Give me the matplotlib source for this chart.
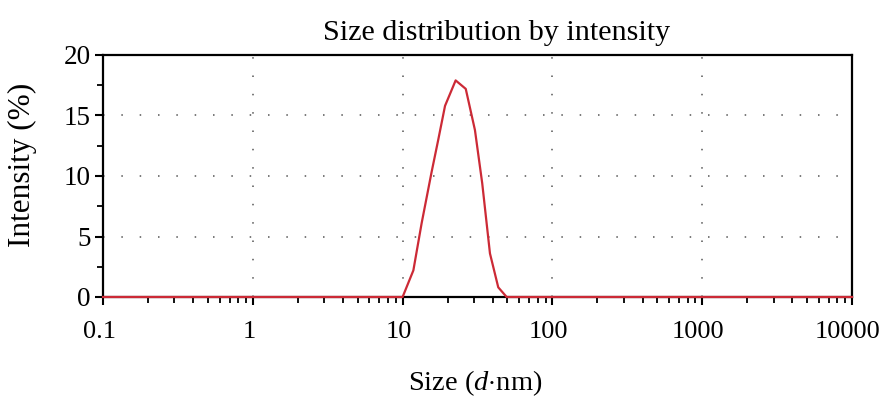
import matplotlib
matplotlib.use("Agg")
import matplotlib.pyplot as plt
import matplotlib.transforms as mtransforms
from matplotlib.ticker import LogLocator, FixedLocator, NullFormatter

plt.rcParams['font.family'] = ['Liberation Serif', 'DejaVu Serif']
plt.rcParams['mathtext.fontset'] = 'custom'
plt.rcParams['mathtext.rm'] = 'Liberation Serif'
plt.rcParams['mathtext.it'] = 'Liberation Serif:italic'

# data (size in nm, intensity in %)
sizes = [0.1, 1.0, 10.0, 11.8, 13.4, 15.6, 17.3, 19.2, 22.6, 26.4, 30.4, 34.0, 38.3, 43.5, 49.5, 100.0, 1000.0, 10000.0]
intensity = [0, 0, 0, 2.2, 6.1, 10.3, 13.0, 15.8, 17.9, 17.2, 13.8, 9.4, 3.6, 0.8, 0, 0, 0, 0]

x_ticks = [0.1, 1, 10, 100, 1000, 10000]
x_ticklabels = ["0.1", "1", "10", "100", "1000", "10000"]
y_ticks = [0, 5, 10, 15, 20]
y_ticklabels = ["0", "5", "10", "15", "20"]
title = "Size distribution by intensity"
xlabel = r"Size ($\mathit{d}$$\cdot$nm)"
ylabel = "Intensity (%)"

W, H = 884, 403
fig = plt.figure(figsize=(W / 100, H / 100), dpi=100)
ax = fig.add_axes([103 / W, 1 - 297 / H, (852 - 103) / W, (297 - 55) / H])

ax.plot(sizes, intensity, color='#cc2a36', lw=1.6, zorder=3, clip_on=False)

ax.set_xscale('log')
ax.set_xlim(0.1, 10000)
ax.set_ylim(0, 20)

ax.xaxis.set_major_locator(FixedLocator(x_ticks))
ax.set_xticklabels(x_ticklabels)
ax.xaxis.set_minor_locator(LogLocator(base=10, subs=range(2, 10)))
ax.xaxis.set_minor_formatter(NullFormatter())
ax.yaxis.set_major_locator(FixedLocator(y_ticks))
ax.set_yticklabels(y_ticklabels)
ax.yaxis.set_minor_locator(FixedLocator([2.5, 7.5, 12.5, 17.5]))

ax.tick_params(axis='both', which='major', direction='out', length=6, width=1.5,
               colors='black')
ax.tick_params(axis='x', which='major', labelsize=19, pad=11)
ax.tick_params(axis='y', which='major', labelsize=19.5, pad=3)
ax.tick_params(axis='both', which='minor', direction='out', length=4, width=1.3)

shift = mtransforms.ScaledTranslation(-0.04, 0, fig.dpi_scale_trans)
for lab in ax.get_xticklabels():
    lab.set_transform(lab.get_transform() + shift)

for s in ax.spines.values():
    s.set_linewidth(1.6)
    s.set_color('black')

ax.grid(True, which='major', axis='both', color='#555555', lw=1.1,
        linestyle=(0, (1, 11)))
ax.set_axisbelow(True)

fig.text(497 / W, 1 - 40 / H, title, ha='center', va='baseline', fontsize=21.7)
fig.text(475 / W, 1 - 390 / H, xlabel, ha='center', va='baseline', fontsize=20.5)
fig.text(22 / W, 1 - 165 / H, ylabel, ha='center', va='center', rotation=90,
         fontsize=22.5)

fig.savefig("out.png", dpi=100)
